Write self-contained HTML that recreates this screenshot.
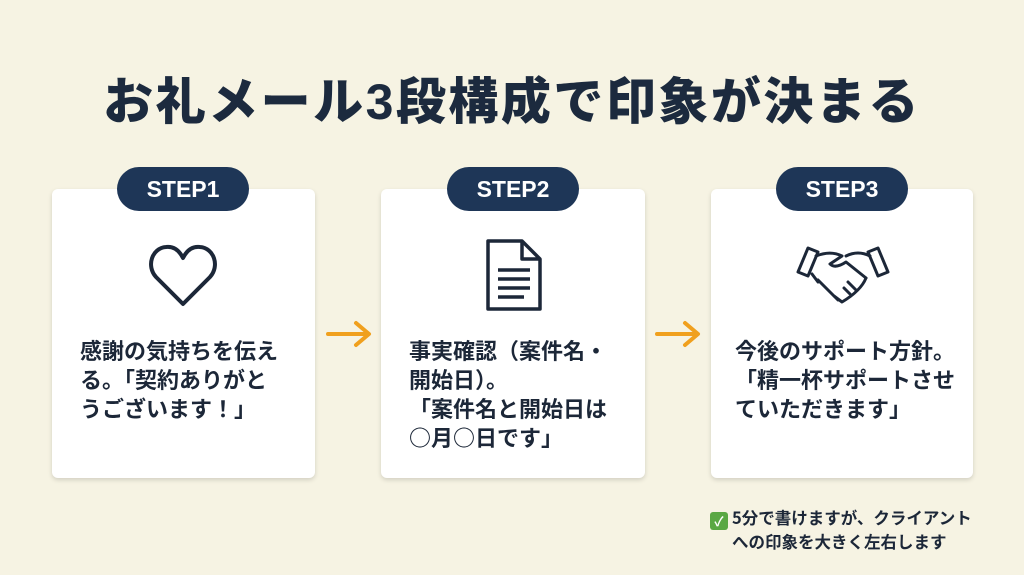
<!DOCTYPE html>
<html><head><meta charset="utf-8"><style>
body{margin:0;width:1024px;height:575px;background:#f6f3e3;font-family:"Liberation Sans","Noto Sans CJK JP",sans-serif;position:relative;overflow:hidden;color:#1c2738}
.title{position:absolute;left:0;width:1024px;top:62px;text-align:center;font-size:50px;font-weight:900;letter-spacing:2.5px;color:#1c2a3e}
.card{position:absolute;top:189px;height:289px;background:#fff;border-radius:6px;box-shadow:0 2px 5px rgba(0,0,0,.15)}
.badge{position:absolute;top:167px;width:132px;height:44px;border-radius:22px;background:#1e3657;color:#fff;font-weight:bold;font-size:23px;text-align:center;line-height:44px}
.txt{position:absolute;top:336px;font-size:22px;font-weight:bold;line-height:29px;color:#1c2738;font-family:"Noto Sans CJK JP",sans-serif;white-space:nowrap}
.arrow{position:absolute;top:320px}
.icon{position:absolute}
.note{position:absolute;left:710px;top:506px;font-size:16.5px;font-weight:bold;line-height:23px;font-family:"Noto Sans CJK JP",sans-serif;white-space:nowrap}
.chk{display:inline-block;width:18px;height:18px;background:#5aa844;border-radius:3px;color:#fff;font-size:13px;text-align:center;line-height:18px;vertical-align:-2px;margin-right:4px}
</style></head><body>
<div class="title">お礼メール3段構成で印象が決まる</div>
<div class="card" style="left:52px;width:263px"></div>
<div class="card" style="left:381px;width:264px"></div>
<div class="card" style="left:711px;width:262px"></div>
<div class="badge" style="left:117px">STEP1</div>
<div class="badge" style="left:447px">STEP2</div>
<div class="badge" style="left:776px">STEP3</div>
<svg class="icon" style="left:148px;top:242px" width="70" height="66" viewBox="0 0 70 66"><path d="M35 62 L8 35 C-2 24 4 6 18 5 C27 4 32 10 35 16 C38 10 43 4 52 5 C66 6 72 24 62 35 Z" fill="none" stroke="#1c2738" stroke-width="4" stroke-linejoin="round"/></svg>
<svg class="icon" style="left:484px;top:238px" width="60" height="74" viewBox="0 0 60 74"><path d="M4 3 H38 L56 21 V71 H4 Z M38 3 V21 H56" fill="none" stroke="#1c2738" stroke-width="3.5" stroke-linejoin="round"/><path d="M14 32H46M14 41H46M14 50H46M14 59H40" stroke="#1c2738" stroke-width="3.5"/></svg>
<svg class="icon" style="left:796px;top:244px" width="94" height="62" viewBox="0 0 94 62"><g fill="none" stroke="#1c2738" stroke-width="3" stroke-linejoin="round" stroke-linecap="round"><path d="M2 28 L12 4 L22 8 L12 32 Z"/><path d="M92 28 L82 4 L72 8 L82 32 Z"/><path d="M20 12 C30 8 38 8 46 12 L34 20 C38 24 44 22 50 18 L70 34"/><path d="M74 12 C66 8 58 8 50 12"/><path d="M16 30 L22 38 M22 36 L30 44 M28 42 L36 50 M34 48 L42 56 M70 34 C66 44 56 52 46 58 L38 52"/><path d="M52 38 L60 46 M48 44 L54 50"/></g></svg>
<svg class="arrow" style="left:325px" width="48" height="28" viewBox="0 0 48 28"><path d="M3 14H43M31 3L44 14L31 25" fill="none" stroke="#f0a01e" stroke-width="4" stroke-linecap="round" stroke-linejoin="round"/></svg>
<svg class="arrow" style="left:654px" width="48" height="28" viewBox="0 0 48 28"><path d="M3 14H43M31 3L44 14L31 25" fill="none" stroke="#f0a01e" stroke-width="4" stroke-linecap="round" stroke-linejoin="round"/></svg>
<div class="txt" style="left:80px">感謝の気持ちを伝え<br>る。「契約ありがと<br>うございます！」</div>
<div class="txt" style="left:409px">事実確認（案件名・<br>開始日）。<br>「案件名と開始日は<br>○月○日です」</div>
<div class="txt" style="left:735px">今後のサポート方針。<br>「精一杯サポートさせ<br>ていただきます」</div>
<div class="note"><span class="chk">✓</span>5分で書けますが、クライアント<br><span style="padding-left:22px">への印象を大きく左右します</span></div>
</body></html>
